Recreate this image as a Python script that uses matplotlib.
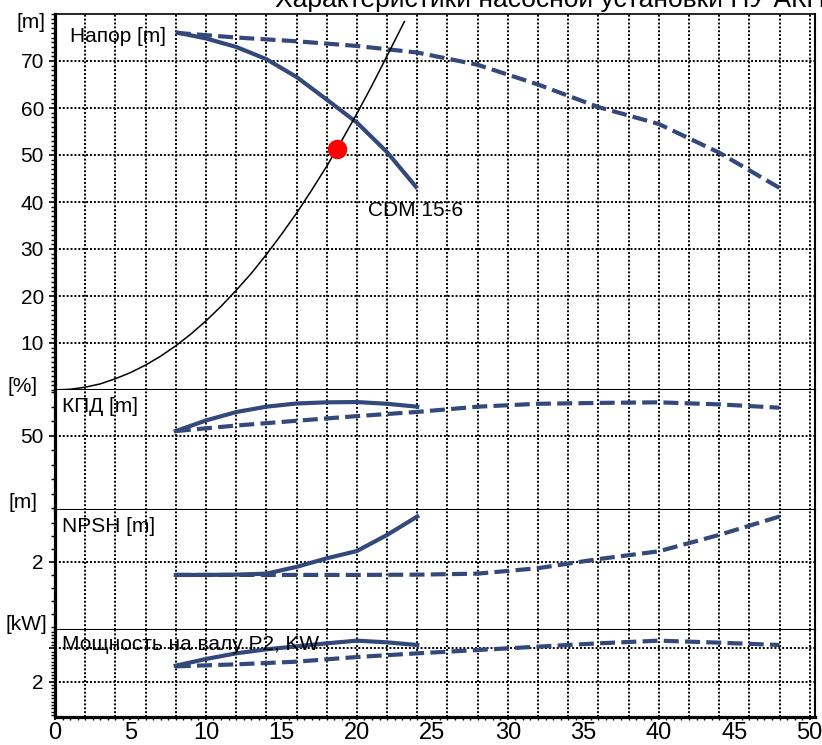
import matplotlib.pyplot as plt
from matplotlib.ticker import MultipleLocator

plt.rcParams['font.family'] = ['Liberation Sans', 'DejaVu Sans']

# head curves: one pump and the set (dashed)
q_pump = [8, 10, 12, 14, 16, 18, 20, 22, 24]
h_pump = [76.1, 74.8, 73.0, 70.4, 66.6, 61.8, 56.9, 50.6, 42.9]
q_set = [8, 12, 16, 20, 24, 28, 32, 36, 40, 44, 48]
h_set = [76.0, 75.0, 74.2, 73.2, 71.8, 69.2, 65.0, 60.2, 56.6, 50.5, 43.0]

# system curve
q_sys = [0, 1, 2, 3, 4, 5, 6, 7, 8, 9, 10, 11, 12, 13, 14, 15, 16, 17, 18, 19, 20, 21, 22, 23.15]
h_sys = [0, 0.15, 0.6, 1.3, 2.4, 3.7, 5.3, 7.2, 9.4, 11.9, 14.7, 17.8, 21.2, 24.8,
         28.8, 33.1, 37.6, 42.5, 47.6, 53.1, 58.8, 64.8, 71.1, 78.4]

# duty point
work_q = 18.7
work_h = 51.3

eff_pump = [53.2, 60.5, 66.3, 70.0, 72.2, 73.0, 73.2, 72.0, 70.0]
eff_set = [53.2, 57.0, 60.3, 63.5, 66.4, 70.0, 72.0, 72.6, 73.0, 71.6, 69.3]

npsh_pump = [1.49, 1.49, 1.50, 1.54, 1.80, 2.13, 2.41, 3.03, 3.74]
npsh_set = [1.49, 1.49, 1.49, 1.49, 1.50, 1.54, 1.75, 2.10, 2.40, 3.03, 3.74]

p2_pump = [2.48, 2.68, 2.85, 2.97, 3.06, 3.15, 3.23, 3.18, 3.10]
p2_set = [2.46, 2.52, 2.60, 2.74, 2.85, 2.95, 3.05, 3.15, 3.23, 3.17, 3.10]

x_ticks = [0, 5, 10, 15, 20, 25, 30, 35, 40, 45, 50]
x_grid = list(range(2, 51, 2))

BLUE = '#34497b'
W, H = 822, 745


def px(x, y):
    return x / W, 1 - y / H


fig = plt.figure(figsize=(W / 100, H / 100), dpi=100)
gs = fig.add_gridspec(4, 1, height_ratios=[376, 120, 120, 86.7], hspace=0,
                      left=55 / W, right=815 / W, top=1 - 14 / H, bottom=1 - 716.7 / H)
ax_h = fig.add_subplot(gs[0])
ax_e = fig.add_subplot(gs[1], sharex=ax_h)
ax_n = fig.add_subplot(gs[2], sharex=ax_h)
ax_p = fig.add_subplot(gs[3], sharex=ax_h)
axes = [ax_h, ax_e, ax_n, ax_p]

dots = (0, (1, 1))
for ax in axes:
    for xg in x_grid:
        ax.axvline(xg, color='black', lw=1.4, ls=dots, zorder=1)
    ax.grid(axis='y', which='major', color='black', lw=1.4, ls=dots)
    ax.set_axisbelow(True)
    ax.tick_params(axis='y', which='both', direction='out', right=False, labelsize=15, pad=4)
    ax.tick_params(axis='y', which='major', length=4, width=1.2)
    ax.tick_params(axis='y', which='minor', length=3, width=1.0)
    ax.tick_params(axis='x', which='both', bottom=False, top=False, labelbottom=False)
    ax.spines['left'].set_linewidth(2.3)
    ax.spines['right'].set_linewidth(1.5)
    ax.spines['bottom'].set_linewidth(1.5)
    ax.spines['top'].set_linewidth(1.2)
    if ax is not ax_h:
        ax.spines['top'].set_visible(False)

ax_p.spines['bottom'].set_linewidth(2.3)
ax_p.set_xlim(0, 50.35)
ax_p.set_xticks(x_ticks)
ax_p.xaxis.set_minor_locator(MultipleLocator(0.5))
ax_p.tick_params(axis='x', which='both', bottom=True, labelbottom=True, direction='out',
                 labelsize=17, pad=1)
ax_p.tick_params(axis='x', which='major', length=2.5, width=1.2)
ax_p.tick_params(axis='x', which='minor', length=2, width=1.0)

# head
ax_h.plot(q_pump, h_pump, color=BLUE, lw=3, solid_capstyle='butt', zorder=3)
ax_h.plot(q_set, h_set, color=BLUE, lw=3, dashes=(3.6, 1.5), zorder=3)
ax_h.plot(q_sys, h_sys, color='black', lw=1.1, zorder=4)
ax_h.plot(work_q, work_h, 'o', color='red', ms=13, zorder=5)
ax_h.set_ylim(0, 80)
ax_h.set_yticks([10, 20, 30, 40, 50, 60, 70])
ax_h.yaxis.set_minor_locator(MultipleLocator(1))

# efficiency
ax_e.plot(q_pump, eff_pump, color=BLUE, lw=3, zorder=3)
ax_e.plot(q_set, eff_set, color=BLUE, lw=3, dashes=(3.6, 1.5), zorder=3)
ax_e.set_ylim(-1.2, 81.5)
ax_e.set_yticks([50])
ax_e.yaxis.set_minor_locator(MultipleLocator(10))

# NPSH
ax_n.plot(q_pump, npsh_pump, color=BLUE, lw=3, zorder=3)
ax_n.plot(q_set, npsh_set, color=BLUE, lw=3, dashes=(3.6, 1.5), zorder=3)
ax_n.set_ylim(-0.63, 3.99)
ax_n.set_yticks([2])
ax_n.yaxis.set_minor_locator(MultipleLocator(0.5))

# shaft power
ax_p.plot(q_pump, p2_pump, color=BLUE, lw=3, zorder=3)
ax_p.plot(q_set, p2_set, color=BLUE, lw=3, dashes=(3.6, 1.5), zorder=3)
ax_p.set_ylim(0.95, 3.55)
ax_p.set_yticks([2, 3])
ax_p.set_yticklabels(['2', ''])
ax_p.yaxis.set_minor_locator(MultipleLocator(0.1))

# labels
fig.text(*px(70, 37), 'Напор [m]', fontsize=15, va='center')
fig.text(*px(62, 406), 'КПД [m]', fontsize=15, va='center')
fig.text(*px(62, 526), 'NPSH [m]', fontsize=15, va='center')
fig.text(*px(62, 645), 'Мощность на валу P2, KW', fontsize=15, va='center')
fig.text(*px(368, 211), 'CDM 15-6', fontsize=15, va='center')
fig.text(*px(45, 22), '[m]', fontsize=15, va='center', ha='right')
fig.text(*px(38, 386), '[%]', fontsize=15, va='center', ha='right')
fig.text(*px(37, 503), '[m]', fontsize=15, va='center', ha='right')
fig.text(*px(47, 624), '[kW]', fontsize=15, va='center', ha='right')
fig.text(*px(275, 7), 'Характеристики насосной установки НУ АКН', fontsize=19,
         va='baseline', ha='left')

fig.savefig('out.png', dpi=100)
